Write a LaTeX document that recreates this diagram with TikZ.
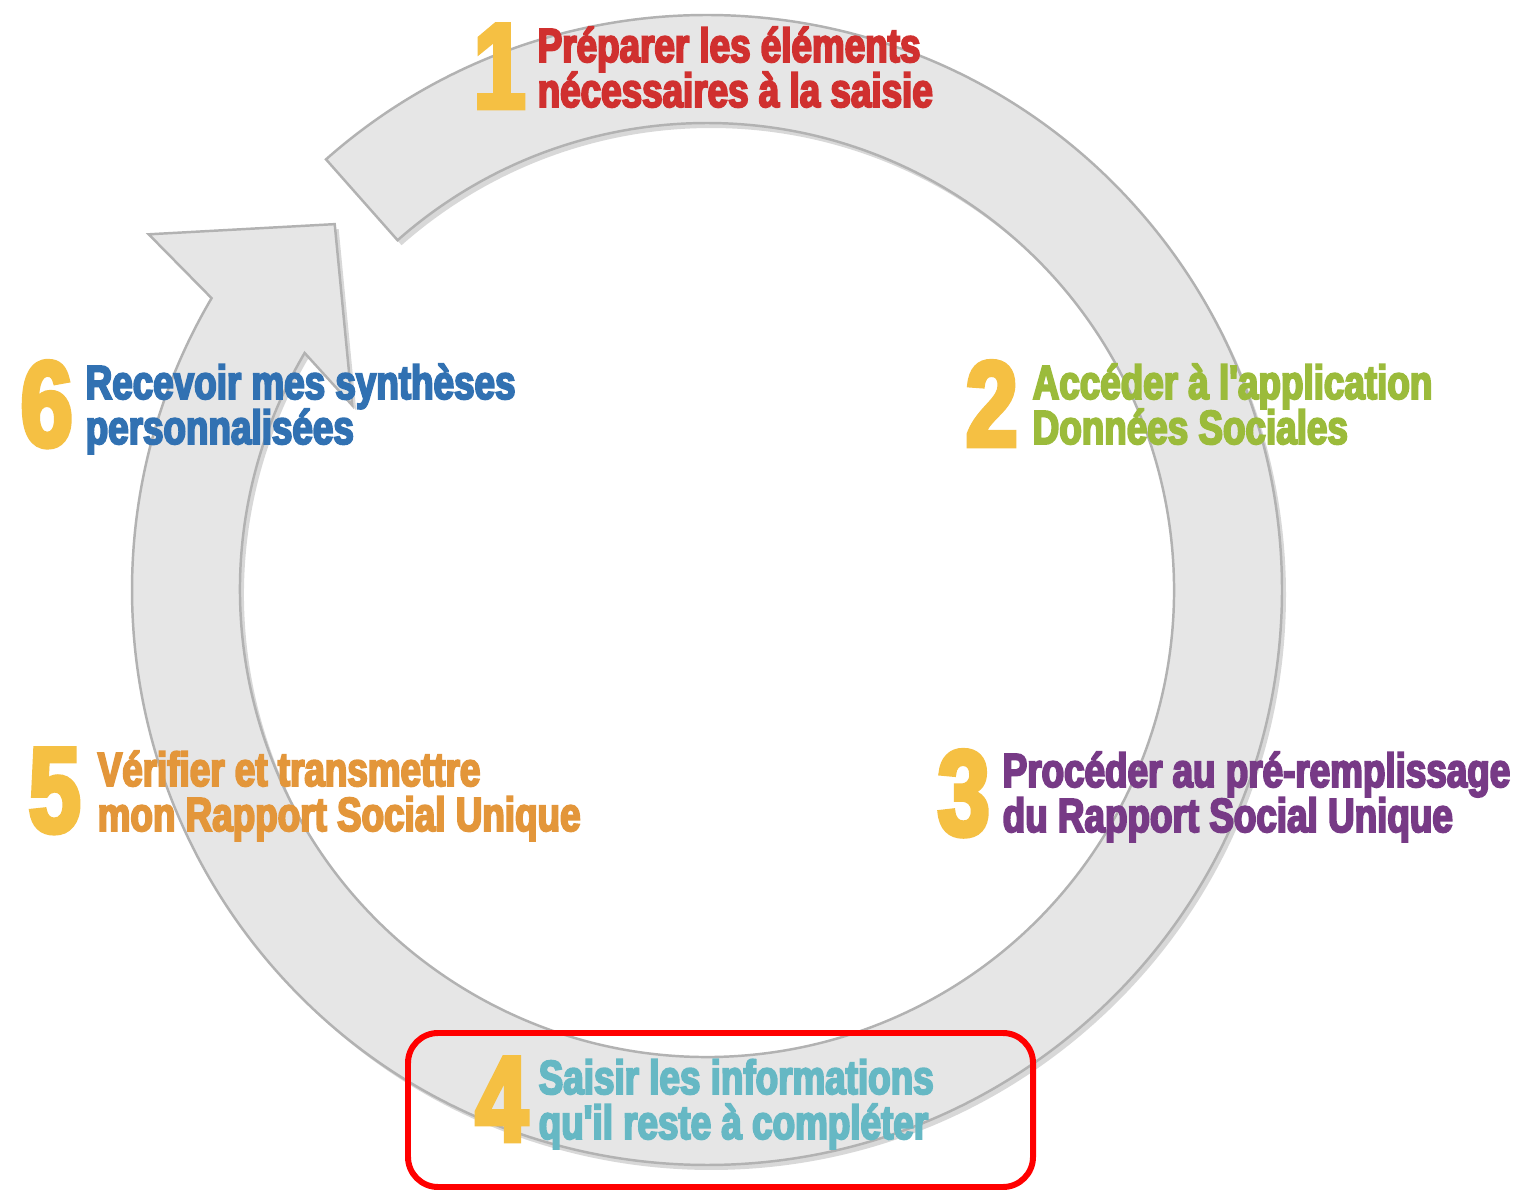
\documentclass[tikz,border=0pt]{standalone}
\usepackage{fontspec}
\newfontfamily\stepfont{Liberation Sans}[FakeStretch=0.77,FakeBold=4]
\usetikzlibrary{shadows}
\definecolor{ringgray}{RGB}{230,230,230}
\definecolor{numyellow}{RGB}{245,192,67}
\definecolor{stepred}{RGB}{208,48,47}
\definecolor{stepgreen}{RGB}{155,187,59}
\definecolor{steppurple}{RGB}{119,58,134}
\definecolor{stepteal}{RGB}{102,184,196}
\definecolor{steporange}{RGB}{227,150,58}
\definecolor{stepblue}{RGB}{49,113,178}
\begin{document}
\begin{tikzpicture}[x=0.01cm, y=0.01cm,
  num/.style={anchor=base west, inner sep=0, text=numyellow, font=\stepfont\bfseries\fontsize{34.5}{34.5}\selectfont},
  steptext/.style={anchor=base west, inner sep=0, align=left, font=\stepfont\bfseries\fontsize{13.6}{12.8}\selectfont},
  ring/.style={fill=ringgray, draw=gray!60, line width=.7pt, drop shadow={opacity=.3, shadow xshift=.04cm, shadow yshift=-.05cm}},
  hilite/.style={draw=red, line width=1.7pt, rounded corners=.3cm}]
\useasboundingbox (0,0) rectangle (1519,1191);
\fill[white] (0,0) rectangle (1519,1191);
\begin{scope}[shift={(707,601)}]
\draw[ring] (131.5:575) arc[start angle=131.5, end angle=-210.5, radius=575] -- (147.5:662) -- (135.5:522) -- (152.5:400) -- (149.5:467) arc[start angle=-210.5, end angle=131.5, radius=467] -- cycle;
\end{scope}
\coordinate (box1) at (408,4);
\coordinate (box2) at (1033,158);
\draw[hilite] (box1) rectangle (box2);
\node[num] (n1) at (473,1083) {1};
\node[steptext, text=stepred] (t1) at (537,1084) {Préparer les éléments\\nécessaires à la saisie};
\node[num] (n2) at (965,745) {2};
\node[steptext, text=stepgreen] (t2) at (1032,747) {Accéder à l'application\\Données Sociales};
\node[num] (n3) at (937,356) {3};
\node[steptext, text=steppurple] (t3) at (1002,359) {Procéder au pré-remplissage\\du Rapport Social Unique};
\node[num] (n4) at (475,50) {4};
\node[steptext, text=stepteal] (t4) at (538,52) {Saisir les informations\\qu'il reste à compléter};
\node[num] (n5) at (28,359) {5};
\node[steptext, text=steporange] (t5) at (97,360) {Vérifier et transmettre\\mon Rapport Social Unique};
\node[num] (n6) at (20,745) {6};
\node[steptext, text=stepblue] (t6) at (85,747) {Recevoir mes synthèses\\personnalisées};
\end{tikzpicture}
\end{document}
